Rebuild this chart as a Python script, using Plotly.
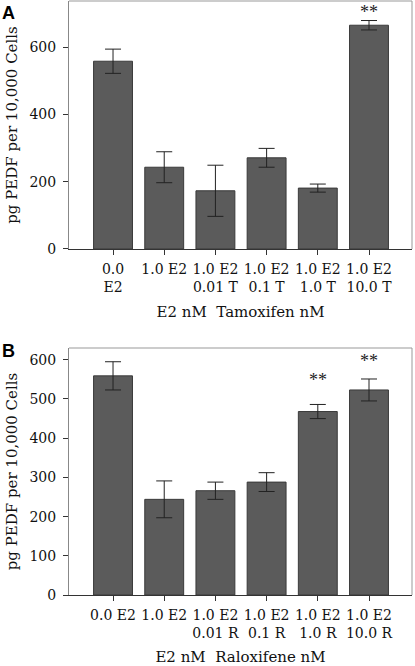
import plotly.graph_objects as go
from plotly.subplots import make_subplots

# Panel A: Tamoxifen
labels_a = ["0.0<br>E2", "1.0 E2", "1.0 E2<br>0.01 T", "1.0 E2<br>0.1 T", "1.0 E2<br>1.0 T", "1.0 E2<br>10.0 T"]
values_a = [558, 243, 173, 271, 181, 665]
errors_a = [36, 46, 76, 28, 12, 14]
sig_a = ["", "", "", "", "", "**"]
sig_y_a = [None, None, None, None, None, 712]

# Panel B: Raloxifene
labels_b = ["0.0 E2", "1.0 E2", "1.0 E2<br>0.01 R", "1.0 E2<br>0.1 R", "1.0 E2<br>1.0 R", "1.0 E2<br>10.0 R"]
values_b = [559, 244, 266, 288, 468, 523]
errors_b = [36, 47, 22, 24, 18, 28]
sig_b = ["", "", "", "", "**", "**"]
sig_y_b = [None, None, None, None, 557, 605]

y_title = "pg PEDF per 10,000 Cells"
x_title_a = "E2 nM&nbsp;&nbsp;Tamoxifen nM"
x_title_b = "E2 nM&nbsp;&nbsp;Raloxifene nM"

FONT = "DejaVu Serif"
BAR = "#5b5b5b"
EDGE = "#3a3a3a"

fig = make_subplots(rows=2, cols=1)

for row, labels, vals, errs in [(1, labels_a, values_a, errors_a), (2, labels_b, values_b, errors_b)]:
    fig.add_trace(go.Bar(
        x=list(range(len(labels))), y=vals,
        marker=dict(color=BAR, line=dict(color=EDGE, width=1)),
        error_y=dict(type="data", array=errs, visible=True, color="#222", thickness=1, width=8),
        showlegend=False, hoverinfo="skip",
    ), row=row, col=1)

# significance markers
def add_sig(sig, sig_y, xref, yref):
    for i, s in enumerate(sig):
        if s:
            fig.add_annotation(x=i, y=sig_y[i], xref=xref, yref=yref, text=s,
                               showarrow=False, yanchor="middle", yshift=-3,
                               font=dict(family="Liberation Serif", size=18, color="#222"))

add_sig(sig_a, sig_y_a, "x", "y")
add_sig(sig_b, sig_y_b, "x2", "y2")

axis_common = dict(showline=True, linecolor="#333", linewidth=1, ticks="outside", ticklen=5,
                   tickcolor="#333", tickfont=dict(family=FONT, size=14, color="#111"),
                   showgrid=False, zeroline=False, automargin=False)

fig.update_layout(
    width=415, height=666,
    margin=dict(l=69, r=3, t=1, b=71),
    plot_bgcolor="white", paper_bgcolor="white",
    bargap=0.24,
    font=dict(family=FONT, color="#111"),
    xaxis=dict(domain=[0, 1], range=[-0.86, 5.84], tickmode="array",
               tickvals=list(range(len(labels_a))), ticktext=labels_a,
               ticklabelstandoff=2,
               title=dict(text=x_title_a, font=dict(family=FONT, size=15), standoff=12),
               **axis_common),
    yaxis=dict(domain=[0.5825, 1], range=[0, 737], tickvals=[0, 200, 400, 600],
               ticklabelstandoff=4,
               title=dict(text=y_title, font=dict(family=FONT, size=15), standoff=8),
               **{**axis_common, "linecolor": "#888"}),
    xaxis2=dict(domain=[0, 1], range=[-0.86, 5.84], tickmode="array",
                tickvals=list(range(len(labels_b))), ticktext=labels_b,
                ticklabelstandoff=2,
                title=dict(text=x_title_b, font=dict(family=FONT, size=15), standoff=13),
                **axis_common),
    yaxis2=dict(domain=[0, 0.4158], range=[0, 630], tickvals=[0, 100, 200, 300, 400, 500, 600],
                ticklabelstandoff=4,
                title=dict(text=y_title, font=dict(family=FONT, size=15), standoff=8),
                **{**axis_common, "linecolor": "#888"}),
)

# box outline (top/right) in grey
for xr, yr in [("x domain", "y domain"), ("x2 domain", "y2 domain")]:
    fig.add_shape(type="line", xref=xr, yref=yr, x0=0, x1=1, y0=1, y1=1,
                  line=dict(color="#999", width=1))
    fig.add_shape(type="line", xref=xr, yref=yr, x0=1, x1=1, y0=0, y1=1,
                  line=dict(color="#999", width=1))

# panel letters
fig.add_annotation(text="<b>A</b>", xref="paper", yref="paper", x=-0.201, y=1.0,
                   xanchor="left", yanchor="top", showarrow=False,
                   font=dict(family="Liberation Sans", size=18, color="black"))
fig.add_annotation(text="<b>B</b>", xref="paper", yref="paper", x=-0.201, y=0.431,
                   xanchor="left", yanchor="top", showarrow=False,
                   font=dict(family="Liberation Sans", size=18, color="black"))

fig.write_html("out.html", config={"displayModeBar": False},
               post_script="document.body.style.margin='0';document.body.style.overflow='hidden';")
